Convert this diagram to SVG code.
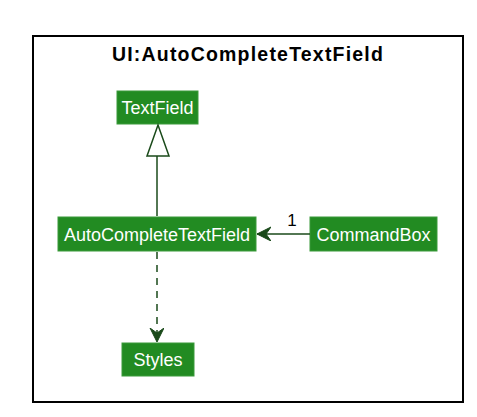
<svg xmlns="http://www.w3.org/2000/svg" width="477" height="417" viewBox="0 0 477 417">
<style>
.node rect{fill:#228B22;stroke:#3a9a3a;stroke-width:1}
.node text{fill:#ffffff;font-family:"Liberation Sans",Arial,sans-serif;font-size:18px;text-anchor:middle}
.title{font-family:"Liberation Sans",Arial,sans-serif;font-size:19.5px;font-weight:bold;letter-spacing:1.2px;text-anchor:middle;fill:#000}
.edge{stroke:#1a4a1a;stroke-width:1.5;fill:none}
</style>
<defs>
<marker id="ah" markerWidth="16" markerHeight="16" refX="14" refY="7" orient="auto" markerUnits="userSpaceOnUse">
<path d="M0,0 L14,7 L0,14 L5,7 Z" fill="#1a4a1a" stroke="#1a4a1a" stroke-width="1"/>
</marker>
</defs>
<rect x="33" y="36" width="430" height="366" fill="#ffffff" stroke="#000" stroke-width="2"/>
<text class="title" x="248" y="61">UI:AutoCompleteTextField</text>
<g id="TextField" class="node"><rect x="117" y="91" width="81" height="33"/><text x="157.5" y="114">TextField</text></g>
<g id="AutoCompleteTextField" class="node"><rect x="58" y="217" width="198" height="34"/><text x="157" y="240.5">AutoCompleteTextField</text></g>
<g id="CommandBox" class="node"><rect x="310" y="217" width="127" height="34"/><text x="373.5" y="240.5">CommandBox</text></g>
<g id="Styles" class="node"><rect x="122" y="343" width="72" height="33"/><text x="158" y="366">Styles</text></g>
<g id="connectors">
<line class="edge" x1="157" y1="216" x2="157" y2="156"/>
<polygon points="158,125 147,156 169,156" fill="#fff" stroke="#1a4a1a" stroke-width="1.5"/>
<line class="edge" x1="310" y1="234" x2="257" y2="234" marker-end="url(#ah)"/>
<text x="292" y="226" font-family="'Liberation Sans',Arial,sans-serif" font-size="17" text-anchor="middle">1</text>
<line class="edge" x1="157" y1="252" x2="157" y2="342" stroke-dasharray="7,6" marker-end="url(#ah)"/>
</g>
</svg>
